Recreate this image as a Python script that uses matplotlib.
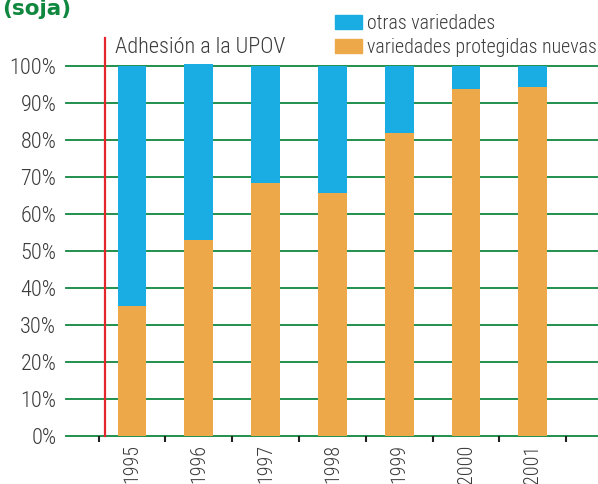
import numpy as np
import matplotlib.pyplot as plt
from matplotlib.patches import Patch

# datos
years = ['1995', '1996', '1997', '1998', '1999', '2000', '2001']
protegidas = [35.1, 53.1, 68.4, 65.7, 81.8, 93.8, 94.4]
totales = [100, 100.5, 100, 100, 100, 100, 100]
otras = [t - p for t, p in zip(totales, protegidas)]
yticks = [0, 10, 20, 30, 40, 50, 60, 70, 80, 90, 100]

BLUE = '#19ade4'
ORANGE = '#eda84a'
GREEN = '#10873f'
RED = '#e5262c'
TXT = '#3a3a3a'
FS = 16

plt.rcParams['font.family'] = ['Roboto Condensed', 'DejaVu Sans']
plt.rcParams['font.weight'] = 'light'

fig = plt.figure(figsize=(5.98, 4.84), dpi=100)
ax = fig.add_axes([66 / 598, 1 - 436 / 484, 1 - 66 / 598, (436 - 66) / 484])

x = np.arange(len(years))
ax.bar(x, protegidas, width=0.43, color=ORANGE, zorder=3, clip_on=False)
ax.bar(x, otras, width=0.43, bottom=protegidas, color=BLUE, zorder=3, clip_on=False)

for v in yticks:
    ax.axhline(v, color=GREEN, lw=1.3, zorder=1, clip_on=False)

ax.plot([-0.40, -0.40], [0, 107.6], color=RED, lw=1.6, zorder=4, clip_on=False)
ax.text(-0.25, 105.1, 'Adhesión a la UPOV', color=TXT, fontsize=FS,
        ha='left', va='center')

ax.set_xlim(-0.988, 6.976)
ax.set_ylim(0, 100)
ax.set_yticks(yticks)
ax.set_yticklabels([f'{v}%' for v in yticks], color=TXT, fontsize=FS)
ax.tick_params(axis='y', length=0, pad=7)

ax.set_xticks(x)
ax.set_xticklabels(years, rotation=90, color=TXT, fontsize=14.5, va='top')
ax.tick_params(axis='x', which='major', length=0, pad=6)
ax.set_xticks(np.arange(-0.5, len(years)), minor=True)
ax.tick_params(axis='x', which='minor', length=4, width=1.5, color='#222222', direction='out')

for s in ax.spines.values():
    s.set_visible(False)

handles = [Patch(color=BLUE), Patch(color=ORANGE)]
fig.legend(handles, ['otras variedades', 'variedades protegidas nuevas'],
           loc='upper left', bbox_to_anchor=(335 / 598, 1 - 14 / 484),
           frameon=False, fontsize=14.3, labelcolor=TXT,
           handlelength=1.34, handleheight=0.7, handletextpad=0.25,
           labelspacing=0.25, borderpad=0, borderaxespad=0)

fig.text(2 / 598, 1 - 15 / 484, '(soja)', color=GREEN, fontsize=15.5, fontweight='bold',
         ha='left', va='baseline', family=['DejaVu Sans'])

fig.savefig('out.png', dpi=100)
